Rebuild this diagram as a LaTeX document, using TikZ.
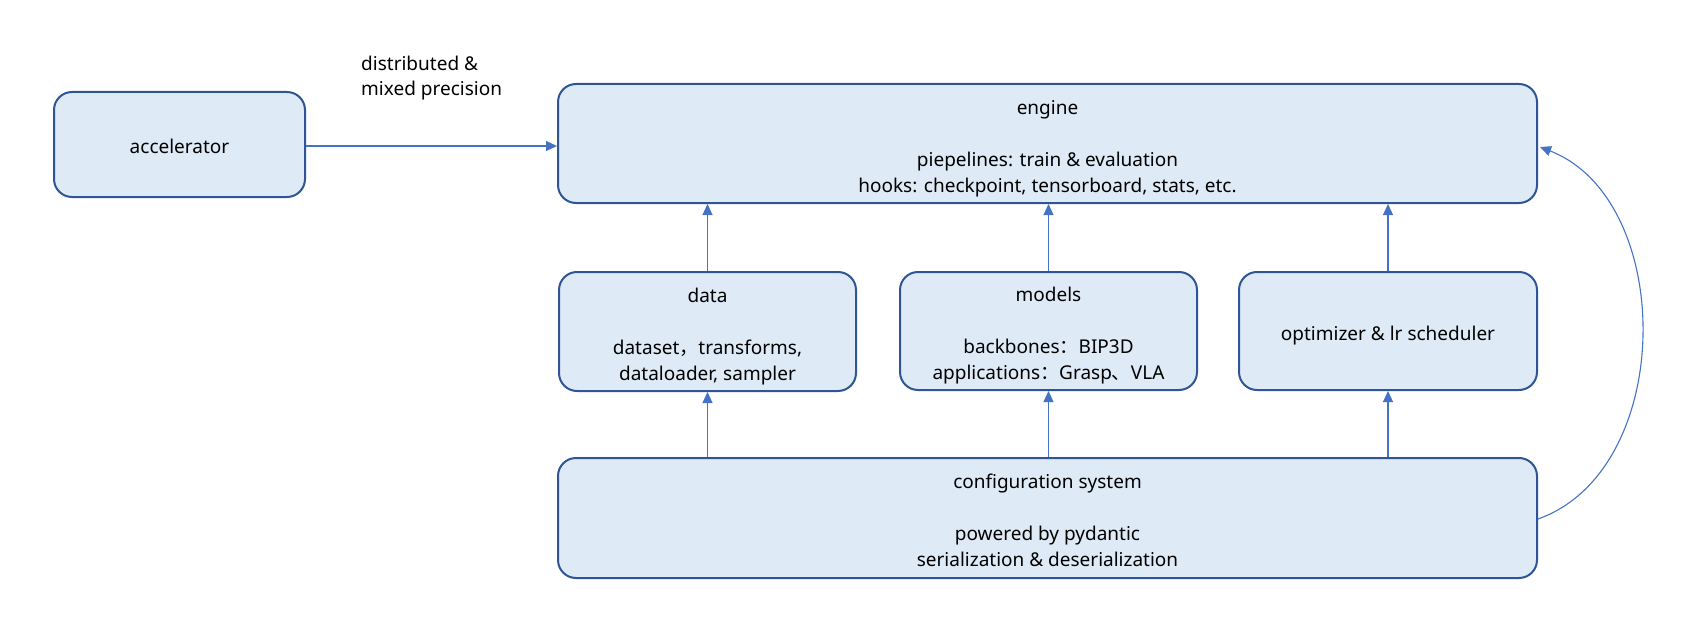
\documentclass[tikz,border=0pt]{standalone}
\usepackage{fontspec}
\setmainfont{Noto Sans}
\newfontfamily\cjk{Noto Sans CJK SC}
\usetikzlibrary{arrows.meta}
\definecolor{boxfill}{HTML}{DEEBF7}
\definecolor{boxline}{HTML}{2F5597}
\definecolor{arrowc}{HTML}{4472C4}
\newcommand\dstrut{\rule[-5pt]{0pt}{5pt}}
\begin{document}
\begin{tikzpicture}[x=1pt,y=-1pt,
  box/.style={draw=boxline, line width=2pt, fill=boxfill, rounded corners=18pt, inner sep=0pt},
  boxtext/.style={align=center, inner sep=0pt, yshift=-5pt, text=black,
    font=\fontsize{19}{26}\selectfont},
  conn/.style={draw=arrowc, line width=1.1pt, -{Triangle[length=11pt,width=10pt]}}
]
\useasboundingbox (0,0) rectangle (1695,623);
\node[box, minimum width=251pt, minimum height=105pt,
  label={[boxtext, name=accT, yshift=1pt]center:accelerator\dstrut}] (acc) at (179.5,144.5) {};
\node[box, minimum width=979pt, minimum height=119pt,
  label={[boxtext, name=engineT]center:engine\\ \\piepelines: train \& evaluation\\hooks: checkpoint, tensorboard, stats, etc.\dstrut}]
  (engine) at (1047.5,143.5) {};
\node[box, minimum width=297pt, minimum height=119pt,
  label={[boxtext, name=dataT]center:data\\ \\dataset{\cjk ，}transforms,\hspace*{13pt}\\dataloader, sampler\dstrut}]
  (data) at (707.5,331.5) {};
\node[box, minimum width=297pt, minimum height=118pt,
  label={[boxtext, name=modelsT]center:models\\ \\backbones{\cjk ：}BIP3D\\applications{\cjk ：}Grasp{\cjk 、}VLA\dstrut}]
  (models) at (1048.5,331) {};
\node[box, minimum width=298pt, minimum height=118pt,
  label={[boxtext, name=optT]center:optimizer \& lr scheduler\dstrut}] (opt) at (1388,331) {};
\node[box, minimum width=979pt, minimum height=120pt,
  label={[boxtext, name=configT]center:configuration system\\ \\powered by pydantic\\serialization \& deserialization\dstrut}]
  (config) at (1047.5,518) {};
\node[anchor=north west, align=left, inner sep=0pt, font=\fontsize{19}{25}\selectfont] (lbl) at (361,56)
  {distributed \&\\mixed precision};
\draw[conn] (acc.east) ++(0,1.5) coordinate (accout) -- (accout -| engine.west);
\draw[conn] (data.north) -- (data.north |- engine.south);
\draw[conn] (models.north) -- (models.north |- engine.south);
\draw[conn] (opt.north) -- (opt.north |- engine.south);
\draw[conn] (config.north -| data.south) -- (data.south);
\draw[conn] (config.north -| models.south) -- (models.south);
\draw[conn] (config.north -| opt.south) -- (opt.south);
\coordinate (cstart) at ([yshift=-1pt]config.east);
\coordinate (cend) at ([xshift=2pt,yshift=-3.5pt]engine.east);
\draw[conn] (cstart) .. controls (1676,470) and (1676,200) .. (cend);
\end{tikzpicture}
\end{document}
